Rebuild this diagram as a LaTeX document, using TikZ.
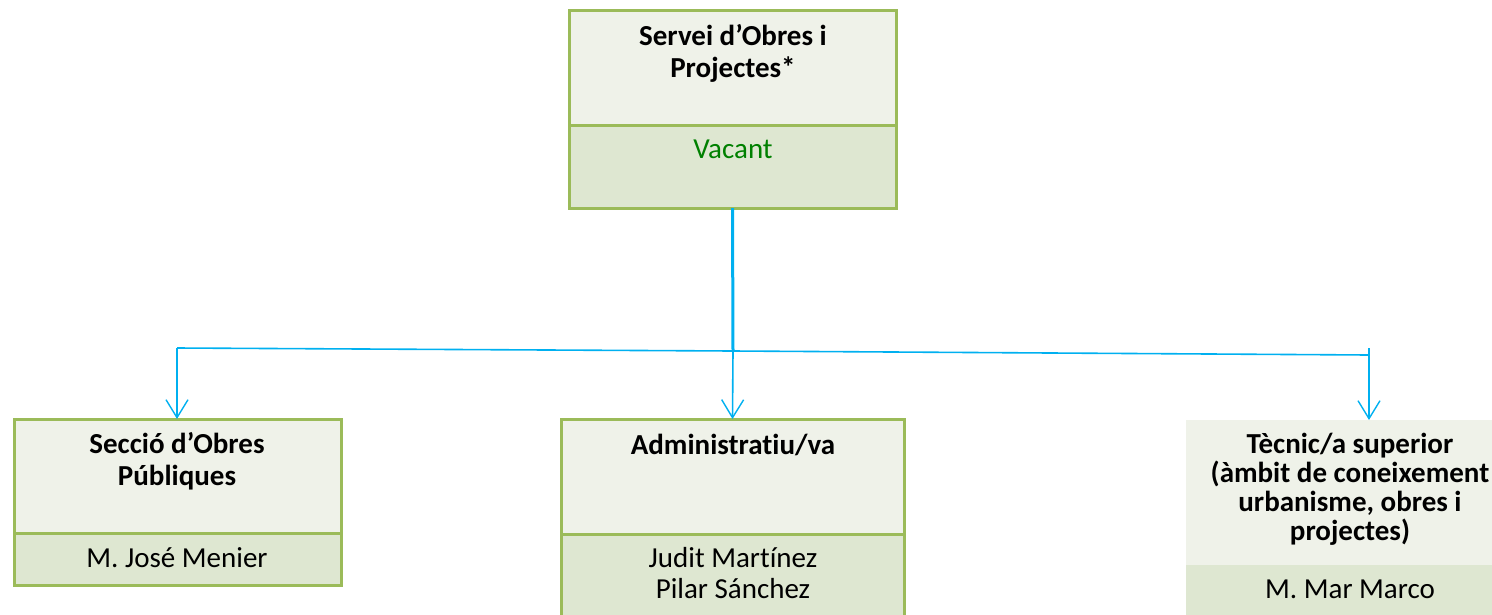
\documentclass[tikz,border=0pt]{standalone}
\usepackage{fontspec}
\setmainfont{Carlito}[Ligatures={NoCommon}]
\usepackage{tikz}
\usetikzlibrary{positioning, arrows.meta}
\usepackage{xcolor}
\definecolor{boxLine}{RGB}{155, 187, 89}
\definecolor{boxHead}{RGB}{239, 242, 233}
\definecolor{boxName}{RGB}{222, 231, 209}
\definecolor{linkBlue}{RGB}{0, 176, 240}
\definecolor{vacGreen}{RGB}{0, 128, 0}

\begin{document}
\begin{tikzpicture}[
  x=1pt, y=-1pt,
  headbox/.style={rectangle, draw=boxLine, line width=3pt, fill=boxHead, inner sep=0pt, outer sep=0pt, anchor=north west},
  namebox/.style={headbox, fill=boxName},
  titletxt/.style={font=\fontsize{29}{32}\selectfont\bfseries, align=center, anchor=base, inner sep=0pt},
  nametxt/.style={font=\fontsize{29}{31}\selectfont, align=center, anchor=base, inner sep=0pt},
  link/.style={draw=linkBlue, line width=1.6pt},
  >={Straight Barb[length=18pt, width=22pt, line width=1.4pt]}
]
  \useasboundingbox (0,0) rectangle (1492,614);

  % --- Top: service head ---
  \node[headbox, minimum width=327pt, minimum height=115pt] (srvH) at (569,10) {};
  \node[namebox, minimum width=327pt, minimum height=83pt, below=0pt of srvH] (srvN) {};
  \node[titletxt] (srvT) at (733,77) {Servei d’Obres i\\Projectes*};
  \node[nametxt, text=vacGreen] (srvV) at (733,158) {Vacant};

  % --- Left: section ---
  \node[headbox, minimum width=327pt, minimum height=114pt] (secH) at (14,419) {};
  \node[namebox, minimum width=327pt, minimum height=52pt, below=0pt of secH] (secN) {};
  \node[titletxt] (secT) at (177,485) {Secció d’Obres\\Públiques};
  \node[nametxt] (secV) at (177,567) {M. José Menier};

  % --- Middle: admin staff ---
  \node[headbox, minimum width=343pt, minimum height=115pt] (admH) at (561,419) {};
  \node[namebox, minimum width=343pt, minimum height=84pt, below=0pt of admH] (admN) {};
  \node[titletxt] (admT) at (733,454) {Administratiu/va};
  \node[nametxt] (admV) at (733,598) {Judit Martínez\\Pilar Sánchez};

  % --- Right: technician (no border) ---
  \node[headbox, draw=none, minimum width=328pt, minimum height=145pt] (tecH) at (1186,420) {};
  \node[namebox, draw=none, minimum width=328pt, minimum height=52pt, below=0pt of tecH] (tecN) {};
  \node[titletxt, font=\fontsize{29}{28.7}\selectfont\bfseries] (tecT) at (1350,540)
    {Tècnic/a superior\\(àmbit de coneixement\\urbanisme, obres i\\projectes)};
  \node[nametxt] (tecV) at (1350,598) {M. Mar Marco};

  % connectors
  \coordinate (jl) at (177,348);
  \coordinate (jm) at (733,351);
  \coordinate (jr) at (1369,355);
  \draw[link, line width=3pt] (srvN.south) -- (jm);
  \draw[link] (jl) -- (jm) -- (jr);
  \draw[link, ->] (jl) -- (jl |- secH.north);
  \draw[link, ->] (jm) -- (admH.north);
  \draw[link, ->] ([yshift=7pt]jr) -- (jr |- tecH.north);
\end{tikzpicture}
\end{document}
